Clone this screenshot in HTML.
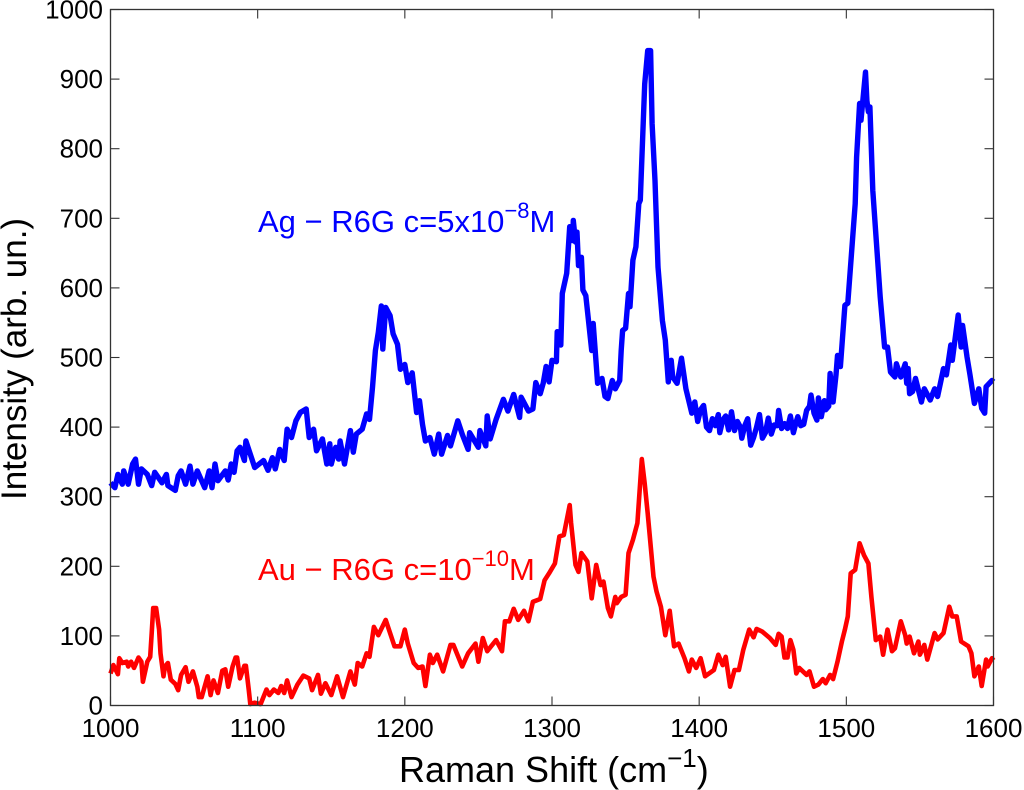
<!DOCTYPE html>
<html>
<head>
<meta charset="utf-8">
<title>Raman spectra</title>
<style>
html,body{margin:0;padding:0;background:#fff;width:1024px;height:790px;overflow:hidden}
svg{display:block}
text{font-family:"Liberation Sans",sans-serif}
</style>
</head>
<body>
<svg id="chart" width="1024" height="790" viewBox="0 0 1024 790" xmlns="http://www.w3.org/2000/svg">
  <g id="series"></g>
  <g id="axes"></g>
  <g id="xlabels" font-size="26" text-anchor="middle" fill="#000"></g>
  <g id="ylabels" font-size="26" text-anchor="end" fill="#000"></g>
  <text x="399" y="782" font-size="36" fill="#000">Raman Shift (cm<tspan font-size="26" dy="-15">−1</tspan><tspan dy="15">)</tspan></text>
  <text transform="translate(26,500) rotate(-90)" font-size="35" fill="#000">Intensity (arb. un.)</text>
  <text x="258" y="232" font-size="31" fill="#0000ff">Ag − R6G c=5x10<tspan font-size="22" dy="-14">−8</tspan><tspan dy="14">M</tspan></text>
  <text x="258" y="580" font-size="31" fill="#ff0000">Au − R6G c=10<tspan font-size="22" dy="-14">−10</tspan><tspan dy="14">M</tspan></text>
</svg>
<script>
const xTicks = [1000,1100,1200,1300,1400,1500,1600];
const yTicks = [0,100,200,300,400,500,600,700,800,900,1000];

const auShift = [1000,1002,1005,1006,1008,1011,1012,1014,1016,1019,1021,1022,1025,1027,1028,1029,1031,1033,1034,1036,1037,1039,1041,1044,1046,1048,1051,1053,1056,1059,1060,1062,1066,1068,1070,1073,1076,1078,1080,1083,1085,1086,1088,1091,1092,1094,1095,1098,1102,1106,1108,1111,1114,1116,1118,1120,1123,1127,1131,1135,1137,1141,1143,1146,1150,1154,1158,1163,1166,1168,1171,1174,1176,1179,1182,1187,1190,1193,1197,1200,1202,1206,1209,1212,1214,1217,1219,1222,1226,1231,1233,1239,1243,1248,1250,1253,1256,1262,1266,1268,1271,1274,1277,1281,1284,1287,1292,1295,1298,1302,1305,1308,1312,1313,1316,1318,1320,1324,1327,1330,1333,1335,1338,1340,1343,1344,1347,1350,1352,1355,1358,1361,1363,1365,1369,1371,1374,1377,1380,1381,1383,1386,1390,1393,1395,1398,1401,1404,1410,1413,1416,1418,1421,1424,1427,1430,1434,1437,1439,1443,1448,1452,1454,1456,1458,1460,1462,1464,1466,1468,1473,1475,1478,1481,1484,1486,1489,1491,1494,1497,1499,1501,1503,1506,1509,1512,1515,1517,1520,1523,1525,1528,1531,1533,1537,1540,1541,1543,1546,1549,1550,1553,1555,1560,1562,1566,1570,1572,1575,1578,1583,1585,1587,1590,1592,1595,1596,1599,1600];
const auIntensity = [46,58,45,68,61,63,56,63,54,69,63,34,63,70,104,140,140,109,75,42,56,61,37,31,22,44,55,34,49,27,12,12,42,15,36,18,50,52,27,56,69,69,39,57,57,22,2,4,2,23,15,23,18,28,18,36,12,30,43,39,22,44,17,32,15,42,12,49,30,61,56,75,70,113,101,123,104,85,85,109,89,61,54,56,28,73,61,73,49,87,87,56,75,89,63,97,78,94,78,121,121,139,123,136,121,149,153,180,190,204,243,245,288,262,202,192,219,207,154,202,173,178,140,128,156,147,156,159,219,238,262,354,319,276,185,164,142,101,136,118,85,89,68,49,66,54,68,42,51,73,58,70,27,51,51,80,109,98,110,106,97,87,103,99,69,69,94,80,46,54,44,49,27,30,38,32,44,38,63,92,109,128,190,195,233,216,204,156,94,99,73,109,78,82,121,101,89,99,75,92,73,87,66,104,95,104,142,128,128,92,85,75,42,56,28,66,56,68,65];

const agShift = [1000,1003,1005,1008,1009,1012,1015,1017,1019,1021,1025,1028,1030,1035,1038,1039,1044,1046,1048,1051,1054,1056,1059,1064,1067,1069,1071,1073,1078,1080,1082,1084,1086,1088,1091,1092,1095,1098,1104,1107,1110,1112,1115,1118,1120,1123,1126,1129,1133,1135,1138,1140,1144,1147,1149,1150,1153,1155,1156,1159,1163,1165,1167,1171,1174,1176,1178,1180,1182,1184,1185,1187,1190,1192,1195,1197,1200,1202,1205,1208,1210,1212,1214,1217,1220,1223,1225,1229,1231,1236,1239,1243,1244,1250,1251,1255,1256,1258,1262,1267,1270,1274,1278,1279,1284,1287,1289,1292,1294,1296,1298,1300,1303,1303.5,1306,1307,1310,1312,1314,1314.5,1316,1317,1318,1320,1321,1323,1325,1327,1328,1331,1334,1336,1338,1341,1343,1346,1347,1348,1350,1352,1353,1355,1357,1359,1360,1363,1365,1367,1368,1370,1372,1375,1377,1379,1381,1382,1385,1388,1391,1395,1397,1399,1401,1403,1405,1407,1409,1411,1413,1414,1416,1418,1420,1422,1424,1426,1428,1429,1431,1433,1435,1437,1439,1441,1443,1445,1447,1449,1451,1453,1454,1456,1458,1460,1462,1464,1466,1467,1469,1471,1473,1475,1476,1478,1480,1481,1483,1485,1486,1488,1489,1491,1493,1494,1496,1499,1501,1506,1507,1509,1510,1513,1514,1515,1516,1518,1523,1526,1528,1530,1533,1534,1537,1540,1541,1542,1543,1545,1547,1551,1553,1557,1560,1562,1566,1568,1571,1572,1576,1578,1579,1582,1584,1587,1590,1592,1594,1595,1599,1600];
const agIntensity = [320,313,332,318,337,318,347,354,318,340,332,316,335,320,332,316,309,330,337,318,344,318,337,313,337,313,347,323,337,324,347,335,366,371,352,380,361,342,352,338,356,340,368,352,397,385,409,421,426,385,397,366,383,347,376,347,371,354,380,347,395,364,390,397,419,411,457,510,536,574,512,572,560,534,519,483,490,464,478,421,438,404,380,385,361,390,361,388,373,409,390,368,392,371,395,373,416,383,411,440,423,447,414,443,423,426,464,448,463,487,465,496,494,537,518,592,621,688,668,697,666,680,632,644,597,589,549,510,549,463,470,444,441,467,455,467,510,539,542,592,573,640,659,721,726,893,941,941,836,754,630,553,525,465,496,472,463,499,455,420,436,408,425,431,400,395,412,402,418,392,410,416,396,422,395,408,400,384,402,412,374,385,400,418,384,392,413,390,403,402,424,398,405,398,416,392,408,415,402,404,424,430,446,420,410,442,415,438,425,430,477,436,475,503,487,575,578,721,788,865,841,910,869,853,860,740,587,515,515,479,472,491,472,491,463,484,448,451,470,436,455,439,455,444,484,475,518,496,561,515,546,501,475,434,455,427,420,458,467,465];

const X0 = 110.5, X1 = 993.5, Y0 = 705.5, Y1 = 9.5;
const NS = 'http://www.w3.org/2000/svg';
function xScale(v){ return X0 + (v - 1000) / 600 * (X1 - X0); }
function yScale(v){ return Y0 - v / 1000 * (Y0 - Y1); }
function clipTop(v){ return Math.max(0, v); }

const seriesGroup = document.getElementById('series');
const axesGroup = document.getElementById('axes');
const xLabelGroup = document.getElementById('xlabels');
const yLabelGroup = document.getElementById('ylabels');

function pathFrom(xs, ys){
  return xs.map(function(x, i){
    return (i ? 'L' : 'M') + xScale(x).toFixed(1) + ' ' + yScale(clipTop(ys[i])).toFixed(1);
  }).join('');
}

const agLine = document.createElementNS(NS, 'path');


agLine.setAttribute('d', pathFrom(agShift, agIntensity));
agLine.setAttribute('fill', 'none');
agLine.setAttribute('stroke', '#0000ff');
agLine.setAttribute('stroke-width', '5.4');
agLine.setAttribute('stroke-linejoin', 'round');
seriesGroup.appendChild(agLine);

const auLine = document.createElementNS(NS, 'path');


auLine.setAttribute('d', pathFrom(auShift, auIntensity));
auLine.setAttribute('fill', 'none');
auLine.setAttribute('stroke', '#ff0000');
auLine.setAttribute('stroke-width', '4.6');
auLine.setAttribute('stroke-linejoin', 'round');
seriesGroup.appendChild(auLine);

const frame = document.createElementNS(NS, 'rect');


frame.setAttribute('x', X0);
frame.setAttribute('y', Y1);
frame.setAttribute('width', X1 - X0);
frame.setAttribute('height', Y0 - Y1);
frame.setAttribute('fill', 'none');
frame.setAttribute('stroke', '#333');
frame.setAttribute('stroke-width', '1.3');
axesGroup.appendChild(frame);

function addTick(x1, y1, x2, y2){
  const tick = document.createElementNS(NS, 'line');
  
  
  tick.setAttribute('x1', x1);
  tick.setAttribute('y1', y1);
  tick.setAttribute('x2', x2);
  tick.setAttribute('y2', y2);
  tick.setAttribute('stroke', '#333');
  tick.setAttribute('stroke-width', '1.1');
  axesGroup.appendChild(tick);
}

xTicks.forEach(function(v){
  const x = xScale(v);
  addTick(x, Y0, x, Y0 - 9);
  addTick(x, Y1, x, Y1 + 9);
  const label = document.createElementNS(NS, 'text');
  
  
  label.setAttribute('x', x);
  label.setAttribute('y', 737);
  label.textContent = String(v);
  xLabelGroup.appendChild(label);
});

yTicks.forEach(function(v){
  const y = yScale(v);
  addTick(X0, y, X0 + 9, y);
  addTick(X1, y, X1 - 9, y);
  const label = document.createElementNS(NS, 'text');
  
  
  label.setAttribute('x', 103);
  label.setAttribute('y', y + 9);
  label.textContent = String(v);
  yLabelGroup.appendChild(label);
});
</script>
</body>
</html>
